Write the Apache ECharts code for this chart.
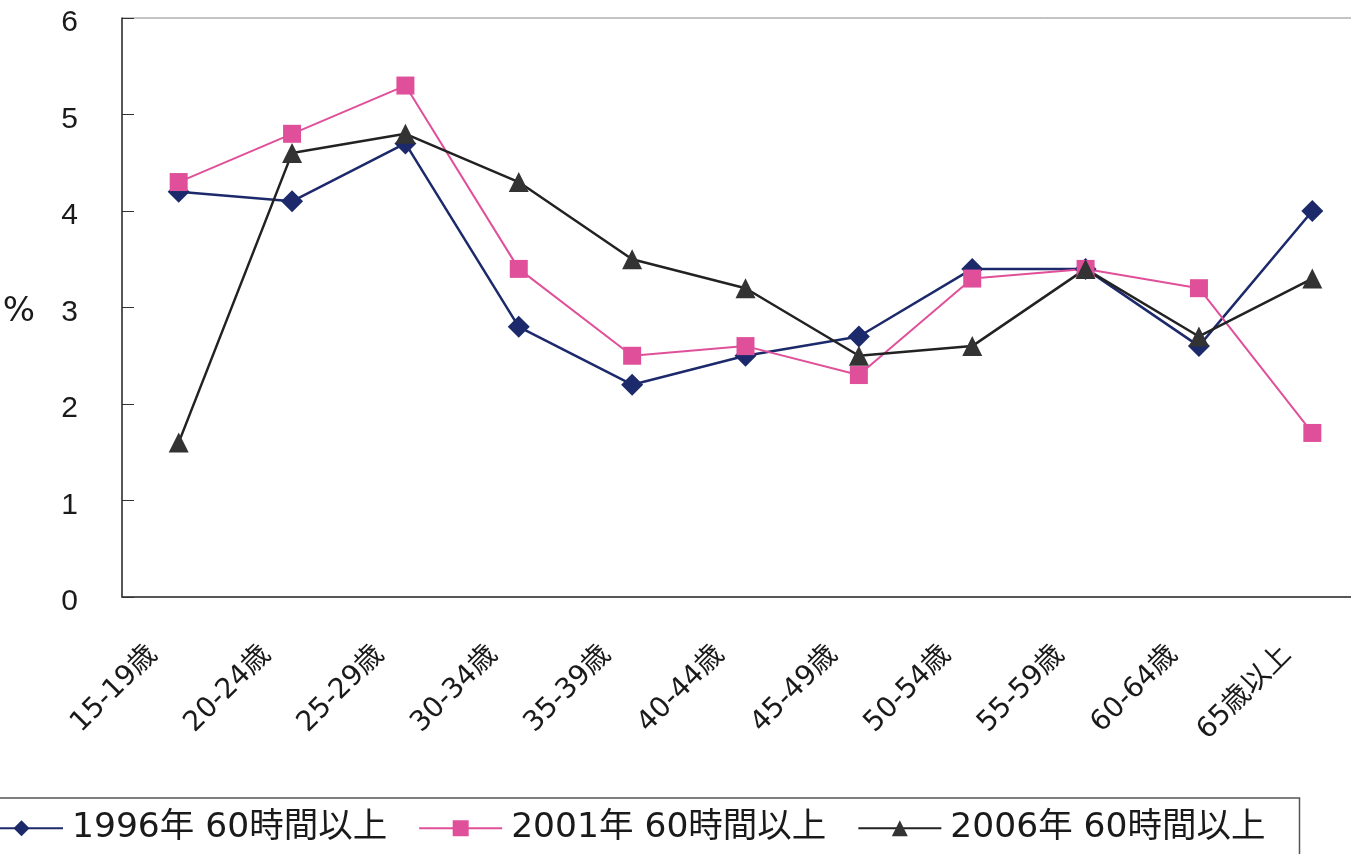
<!DOCTYPE html>
<html>
<head>
<meta charset="utf-8">
<script src="https://cdn.jsdelivr.net/npm/echarts@6/dist/echarts.min.js"></script>
<style>
  html, body { margin: 0; padding: 0; background: #fff; }
  #chart { width: 1351px; height: 854px; }
</style>
</head>
<body>
<div id="chart"></div>
<script>
  // 年齢階級
  const ageGroups = ['15-19歳', '20-24歳', '25-29歳', '30-34歳', '35-39歳', '40-44歳',
                     '45-49歳', '50-54歳', '55-59歳', '60-64歳', '65歳以上'];
  const seriesNames = ['1996年 60時間以上', '2001年 60時間以上', '2006年 60時間以上'];
  const y1996 = [4.2, 4.1, 4.7, 2.8, 2.2, 2.5, 2.7, 3.4, 3.4, 2.6, 4.0];
  const y2001 = [4.3, 4.8, 5.3, 3.4, 2.5, 2.6, 2.3, 3.3, 3.4, 3.2, 1.7];
  const y2006 = [1.6, 4.6, 4.8, 4.3, 3.5, 3.2, 2.5, 2.6, 3.4, 2.7, 3.3];

  const font = '"DejaVu Sans", "Noto Sans CJK JP", sans-serif';
  const myChart = echarts.init(document.getElementById('chart'));

  const option = {
    animation: false,
    backgroundColor: '#fff',
    textStyle: { fontFamily: font },
    grid: {
      left: 122, top: 18, right: -18, bottom: 257,
      outerBoundsMode: 'none',
      containLabel: false,
      show: true, borderColor: '#888', borderWidth: 1
    },
    legend: {
      data: seriesNames,
      left: -31, top: 798,
      orient: 'horizontal',
      itemWidth: 83, itemHeight: 20, itemGap: 31,
      padding: [13, 34, 40, 10],
      borderColor: '#555', borderWidth: 1.5,
      textStyle: { fontSize: 34.5, color: '#1a1a1a', fontFamily: font, padding: [0, 0, 0, 4] }
    },
    xAxis: {
      type: 'category',
      data: ageGroups,
      boundaryGap: true,
      axisLine: { lineStyle: { color: '#333', width: 1.5 } },
      axisTick: { inside: true, length: 11, interval: 0, lineStyle: { color: '#333' } },
      axisLabel: {
        interval: 0, rotate: 45, fontSize: 28, color: '#1a1a1a',
        margin: 28, padding: [0, 36, 0, 0]
      },
      splitLine: { show: false }
    },
    yAxis: {
      type: 'value',
      min: 0, max: 6, interval: 1,
      name: '%',
      nameLocation: 'middle',
      nameRotate: 0,
      nameGap: 87,
      nameTextStyle: { fontSize: 34, color: '#1a1a1a', verticalAlign: 'top', lineHeight: 10 },
      axisLine: { show: true, lineStyle: { color: '#333', width: 1.5 } },
      axisTick: { show: true, inside: true, length: 12, lineStyle: { color: '#333' } },
      axisLabel: {
        fontSize: 30, color: '#1a1a1a', margin: 44,
        fontFamily: '"Liberation Sans", sans-serif',
        verticalAlign: 'top', lineHeight: 10
      },
      splitLine: { show: false }
    },
    series: [
      {
        name: seriesNames[0], type: 'line', data: y1996,
        symbol: 'diamond', symbolSize: 22,
        itemStyle: { color: '#1c2a6b' },
        lineStyle: { color: '#1c2a6b', width: 2.5 }
      },
      {
        name: seriesNames[1], type: 'line', data: y2001,
        symbol: 'rect', symbolSize: 18,
        itemStyle: { color: '#e0509a' },
        lineStyle: { color: '#e0509a', width: 2 }
      },
      {
        name: seriesNames[2], type: 'line', data: y2006,
        symbol: 'triangle', symbolSize: 20,
        itemStyle: { color: '#333333' },
        lineStyle: { color: '#222222', width: 2.5 }
      }
    ]
  };
  myChart.setOption(option);
</script>
</body>
</html>
